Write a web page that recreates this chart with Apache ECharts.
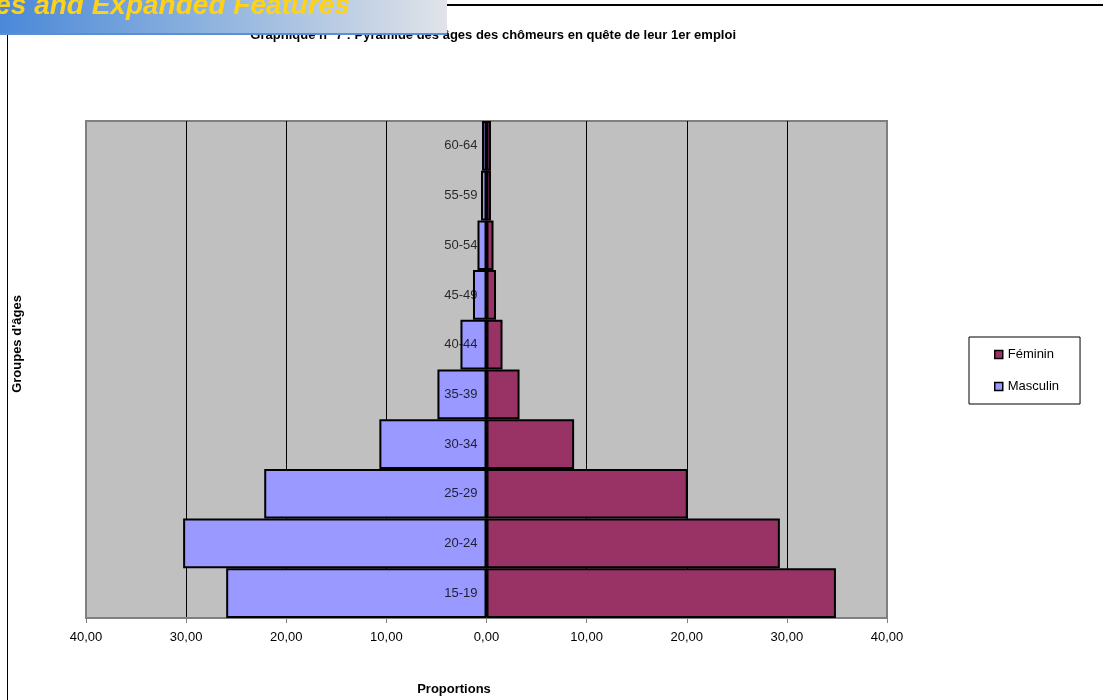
<!DOCTYPE html>
<html>
<head>
<meta charset="utf-8">
<script src="https://cdn.jsdelivr.net/npm/echarts@6/dist/echarts.min.js"></script>
<style>
html,body{margin:0;padding:0;background:#fff;}
#chart{width:1103px;height:700px;}
</style>
</head>
<body>
<div id="chart"></div>
<script>
var categories = ['15-19','20-24','25-29','30-34','35-39','40-44','45-49','50-54','55-59','60-64'];
var masculin = [26.0, 30.3, 22.2, 10.7, 4.9, 2.6, 1.35, 0.9, 0.55, 0.45];
var feminin = [34.9, 29.3, 20.1, 8.75, 3.3, 1.6, 0.95, 0.7, 0.45, 0.45];
var xTicks = [-40, -30, -20, -10, 0, 10, 20, 30, 40];

var FONT = "'Liberation Sans', Arial, sans-serif";
var chart = echarts.init(document.getElementById('chart'));
chart.setOption({
  animation: false,
  backgroundColor: '#ffffff',
  textStyle: { fontFamily: FONT },
  title: {
    text: 'Graphique n° 7 : Pyramide des âges des chômeurs en quête de leur 1er emploi',
    left: 731, textAlign: 'right', top: 24,
    textStyle: { fontFamily: FONT, fontSize: 13, fontWeight: 'bold', color: '#000' }
  },
  legend: {
    data: ['Féminin', 'Masculin'],
    orient: 'vertical',
    left: 969, top: 337,
    padding: [11, 21, 11, 25],
    itemGap: 19,
    itemWidth: 8, itemHeight: 8,
    icon: 'rect',
    borderColor: '#000', borderWidth: 1,
    backgroundColor: '#fff',
    itemStyle: { borderColor: '#000', borderWidth: 1.5 },
    textStyle: { fontFamily: FONT, fontSize: 13, color: '#000' }
  },
  grid: {
    left: 86, right: 216, top: 121, bottom: 82,
    show: true, backgroundColor: '#C0C0C0', borderColor: '#808080', borderWidth: 2
  },
  xAxis: {
    type: 'value',
    min: xTicks[0], max: xTicks[xTicks.length - 1], interval: 10,
    axisLine: { show: true, onZero: false, lineStyle: { color: '#808080', width: 2 } },
    axisTick: { show: true, length: 5, lineStyle: { color: '#808080' } },
    splitLine: { show: true, showMinLine: false, showMaxLine: false, lineStyle: { color: '#000', width: 1 } },
    axisLabel: {
      margin: 13, fontFamily: FONT, fontSize: 13, color: '#000',
      formatter: function (v) { return Math.abs(v).toFixed(2).replace('.', ','); }
    }
  },
  yAxis: {
    type: 'category',
    data: categories,
    axisLine: { show: false },
    axisTick: { show: false },
    axisLabel: { show: false }
  },
  series: [
    {
      name: 'Féminin', type: 'bar', data: feminin,
      barGap: '-100%', barCategoryGap: '0%',
      itemStyle: { color: '#993366', borderColor: '#000', borderWidth: 2 }
    },
    {
      name: 'Masculin', type: 'bar',
      data: masculin.map(function (v) { return -v; }),
      barGap: '-100%', barCategoryGap: '0%',
      itemStyle: { color: '#9999FF', borderColor: '#000', borderWidth: 2 }
    },
    {
      name: 'labels', type: 'scatter', silent: true, z: 10,
      symbolSize: 0,
      data: categories.map(function (c) { return [0, c]; }),
      label: {
        show: true, position: 'left', distance: 9,
        fontFamily: FONT, fontSize: 13, color: '#000',
        formatter: function (p) { return p.value[1]; }
      }
    }
  ],
  graphic: [
    { type: 'line', shape: { x1: 440, y1: 5, x2: 1103, y2: 5 }, style: { stroke: '#000', lineWidth: 2 }, z: 50 },
    { type: 'line', shape: { x1: 7.5, y1: 30, x2: 7.5, y2: 700 }, style: { stroke: '#000', lineWidth: 1 }, z: 50 },
    {
      type: 'text', x: 17, y: 344, rotation: Math.PI / 2,
      style: { text: "Groupes d'âges", font: 'bold 13px ' + FONT, fill: '#000', textAlign: 'center', textVerticalAlign: 'middle' },
      z: 50
    },
    {
      type: 'text', x: 454, y: 689,
      style: { text: 'Proportions', font: 'bold 13px ' + FONT, fill: '#000', textAlign: 'center', textVerticalAlign: 'middle' },
      z: 50
    },
    {
      type: 'group', z: 100,
      children: [
        {
          type: 'rect', shape: { x: 0, y: 0, width: 447, height: 34 },
          style: {
            fill: new echarts.graphic.LinearGradient(0, 0, 1, 0, [
              { offset: 0, color: '#4a88d8' },
              { offset: 0.5, color: '#93b6df' },
              { offset: 1, color: '#e1e3e8' }
            ])
          }, z: 100
        },
        { type: 'rect', shape: { x: 0, y: 33, width: 447, height: 2 }, style: { fill: '#5a8fd6' }, z: 101 },
        {
          type: 'text', x: 350, y: 20,
          style: { text: 'ties and Expanded Features', font: 'italic bold 28px ' + FONT, fill: '#FFD21A', textAlign: 'right', textVerticalAlign: 'bottom' },
          z: 102
        }
      ]
    }
  ]
});
</script>
</body>
</html>
